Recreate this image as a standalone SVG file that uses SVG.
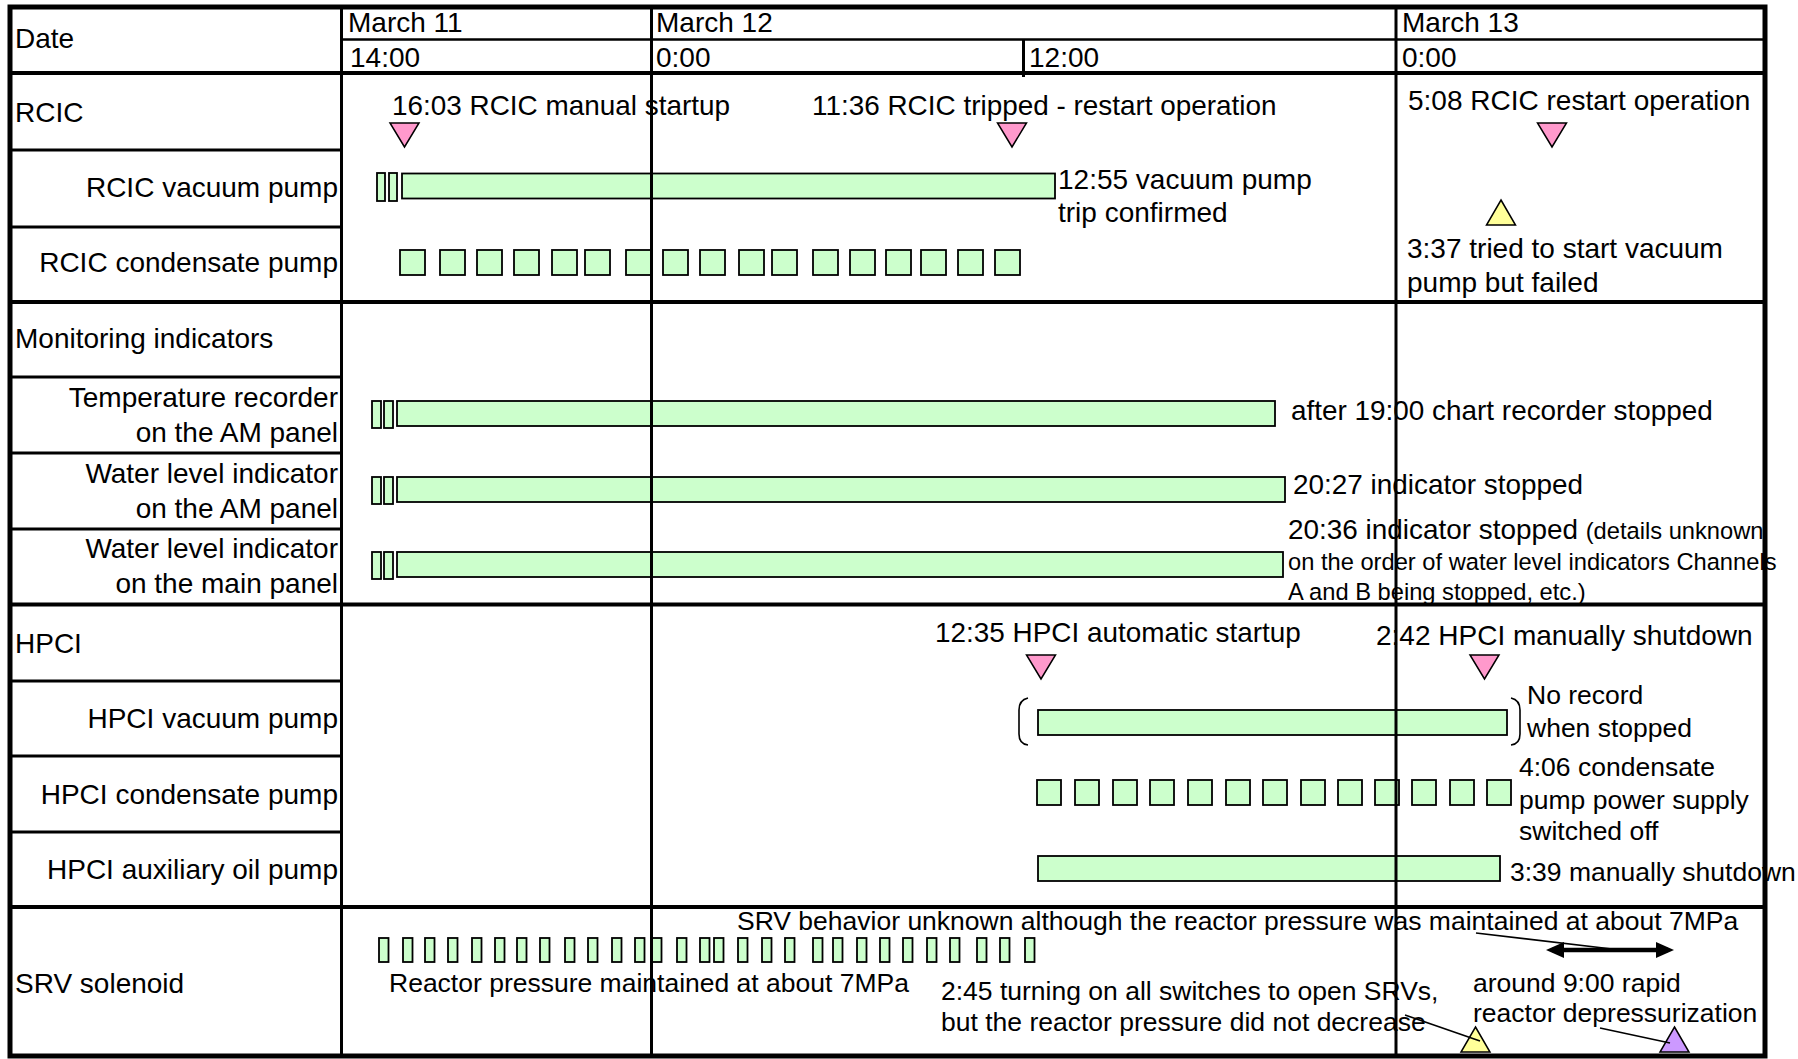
<svg xmlns="http://www.w3.org/2000/svg" width="1798" height="1059" viewBox="0 0 1798 1059">
<defs>
<style>
text { font-family: "Liberation Sans", Arial, sans-serif; fill: #000; }
.l { font-size: 28px; }
.a { font-size: 27.9px; }
.b { font-size: 26.5px; }
.s { font-size: 23.7px; }
.e { text-anchor: end; }
.bar { fill: #CCFFCC; stroke: #000; stroke-width: 1.8; }
.tp { fill: #FF99CC; stroke: #000; stroke-width: 1.5; }
.ty { fill: #FFFF99; stroke: #000; stroke-width: 1.5; }
.tv { fill: #CC99FF; stroke: #000; stroke-width: 1.5; }
.sec { stroke: #000; stroke-width: 4; }
.sub { stroke: #000; stroke-width: 3; }
.col { stroke: #000; stroke-width: 3; }
.thin { stroke: #000; stroke-width: 2.5; }
.ld { stroke: #000; stroke-width: 1.6; fill: none; }
</style>
<path id="tdn" d="M-14.5,0 L14.5,0 L0,24 Z"/>
<path id="tup" d="M0,0 L14.5,25 L-14.5,25 Z"/>
<marker id="ah" viewBox="0 0 18 16" markerWidth="18" markerHeight="16" refX="12" refY="8" orient="auto-start-reverse" markerUnits="userSpaceOnUse"><path d="M0,0 L18,8 L0,16 Z" fill="#000"/></marker>
</defs>
<rect x="0" y="0" width="1798" height="1059" fill="#fff"/>

<g id="header">
<text class="l" x="15" y="48">Date</text>
<text class="l" x="348" y="32">March 11</text>
<text class="l" x="656" y="32">March 12</text>
<text class="l" x="1402" y="32">March 13</text>
<text class="l" x="350" y="67">14:00</text>
<text class="l" x="656" y="67">0:00</text>
<text class="l" x="1029" y="67">12:00</text>
<text class="l" x="1402" y="67">0:00</text>
</g>

<g id="row-rcic">
<text class="l" x="15" y="122">RCIC</text>
<text class="a" x="392" y="115">16:03 RCIC manual startup</text>
<text class="a" x="812" y="115">11:36 RCIC tripped - restart operation</text>
<text class="l" x="1408" y="110">5:08 RCIC restart operation</text>
<use href="#tdn" class="tp" x="404.5" y="123"/>
<use href="#tdn" class="tp" x="1012" y="123"/>
<use href="#tdn" class="tp" x="1552" y="123"/>
</g>

<g id="row-rcic-vacuum">
<text class="l e" x="338" y="197">RCIC vacuum pump</text>
<rect class="bar" x="377" y="173" width="8" height="28"/>
<rect class="bar" x="389" y="173" width="8" height="28"/>
<rect class="bar" x="402" y="173.5" width="653" height="25"/>
<text class="l" x="1058" y="189">12:55 vacuum pump</text>
<text class="l" x="1058" y="222">trip confirmed</text>
<use href="#tup" class="ty" x="1501" y="200"/>
</g>

<g id="row-rcic-condensate">
<text class="l e" x="338" y="272">RCIC condensate pump</text>
<rect class="bar" x="400" y="250" width="25" height="25"/>
<rect class="bar" x="440" y="250" width="25" height="25"/>
<rect class="bar" x="477" y="250" width="25" height="25"/>
<rect class="bar" x="514" y="250" width="25" height="25"/>
<rect class="bar" x="552" y="250" width="25" height="25"/>
<rect class="bar" x="585" y="250" width="25" height="25"/>
<rect class="bar" x="626" y="250" width="25" height="25"/>
<rect class="bar" x="663" y="250" width="25" height="25"/>
<rect class="bar" x="700" y="250" width="25" height="25"/>
<rect class="bar" x="739" y="250" width="25" height="25"/>
<rect class="bar" x="772" y="250" width="25" height="25"/>
<rect class="bar" x="813" y="250" width="25" height="25"/>
<rect class="bar" x="850" y="250" width="25" height="25"/>
<rect class="bar" x="886" y="250" width="25" height="25"/>
<rect class="bar" x="921" y="250" width="25" height="25"/>
<rect class="bar" x="958" y="250" width="25" height="25"/>
<rect class="bar" x="995" y="250" width="25" height="25"/>
<text class="l" x="1407" y="258">3:37 tried to start vacuum</text>
<text class="l" x="1407" y="292">pump but failed</text>
</g>

<g id="row-monitoring">
<text class="l" x="15" y="348">Monitoring indicators</text>
</g>

<g id="row-temperature">
<text class="l e" x="338" y="407">Temperature recorder</text>
<text class="l e" x="338" y="442">on the AM panel</text>
<rect class="bar" x="372" y="401" width="9" height="27"/>
<rect class="bar" x="384" y="401" width="9" height="27"/>
<rect class="bar" x="397" y="401" width="878" height="25"/>
<text class="a" x="1291" y="420">after 19:00 chart recorder stopped</text>
</g>

<g id="row-water-am">
<text class="l e" x="338" y="483">Water level indicator</text>
<text class="l e" x="338" y="518">on the AM panel</text>
<rect class="bar" x="372" y="477" width="9" height="27"/>
<rect class="bar" x="384" y="477" width="9" height="27"/>
<rect class="bar" x="397" y="477" width="888" height="25"/>
<text class="a" x="1293" y="494">20:27 indicator stopped</text>
</g>

<g id="row-water-main">
<text class="l e" x="338" y="558">Water level indicator</text>
<text class="l e" x="338" y="593">on the main panel</text>
<rect class="bar" x="372" y="552" width="9" height="27"/>
<rect class="bar" x="384" y="552" width="9" height="27"/>
<rect class="bar" x="397" y="552" width="886" height="25"/>
<text class="a" x="1288" y="539">20:36 indicator stopped <tspan class="s">(details unknown</tspan></text>
<text class="s" x="1288" y="570">on the order of water level indicators Channels</text>
<text class="s" x="1288" y="600">A and B being stopped, etc.)</text>
</g>

<g id="row-hpci">
<text class="l" x="15" y="653">HPCI</text>
<text class="a" x="935" y="642">12:35 HPCI automatic startup</text>
<text class="l" x="1376" y="645">2:42 HPCI manually shutdown</text>
<use href="#tdn" class="tp" x="1041" y="655"/>
<use href="#tdn" class="tp" x="1484.5" y="655"/>
</g>

<g id="row-hpci-vacuum">
<text class="l e" x="338" y="728">HPCI vacuum pump</text>
<path class="ld" d="M1028,698 Q1019,700 1019,710 L1019,734 Q1019,744 1028,745"/>
<rect class="bar" x="1038" y="710" width="469" height="25"/>
<path class="ld" d="M1511,698 Q1520,700 1520,710 L1520,734 Q1520,744 1511,745"/>
<text class="b" x="1527" y="704">No record</text>
<text class="b" x="1527" y="737">when stopped</text>
</g>

<g id="row-hpci-condensate">
<text class="l e" x="338" y="804">HPCI condensate pump</text>
<rect class="bar" x="1037" y="780" width="24" height="25"/>
<rect class="bar" x="1075" y="780" width="24" height="25"/>
<rect class="bar" x="1113" y="780" width="24" height="25"/>
<rect class="bar" x="1150" y="780" width="24" height="25"/>
<rect class="bar" x="1188" y="780" width="24" height="25"/>
<rect class="bar" x="1226" y="780" width="24" height="25"/>
<rect class="bar" x="1263" y="780" width="24" height="25"/>
<rect class="bar" x="1301" y="780" width="24" height="25"/>
<rect class="bar" x="1338" y="780" width="24" height="25"/>
<rect class="bar" x="1375" y="780" width="24" height="25"/>
<rect class="bar" x="1412" y="780" width="24" height="25"/>
<rect class="bar" x="1450" y="780" width="24" height="25"/>
<rect class="bar" x="1487" y="780" width="24" height="25"/>
<text class="b" x="1519" y="776">4:06 condensate</text>
<text class="b" x="1519" y="809">pump power supply</text>
<text class="b" x="1519" y="840">switched off</text>
</g>

<g id="row-hpci-oil">
<text class="l e" x="338" y="879">HPCI auxiliary oil pump</text>
<rect class="bar" x="1038" y="856" width="462" height="25"/>
<text class="b" x="1510" y="881">3:39 manually shutdown</text>
</g>

<g id="row-srv">
<text class="l" x="15" y="993">SRV solenoid</text>
<g id="srv-pulses">
<rect class="bar" x="379" y="938" width="9.5" height="24"/>
<rect class="bar" x="403" y="938" width="9.5" height="24"/>
<rect class="bar" x="425" y="938" width="9.5" height="24"/>
<rect class="bar" x="448" y="938" width="9.5" height="24"/>
<rect class="bar" x="472" y="938" width="9.5" height="24"/>
<rect class="bar" x="495" y="938" width="9.5" height="24"/>
<rect class="bar" x="517" y="938" width="9.5" height="24"/>
<rect class="bar" x="540" y="938" width="9.5" height="24"/>
<rect class="bar" x="565" y="938" width="9.5" height="24"/>
<rect class="bar" x="588" y="938" width="9.5" height="24"/>
<rect class="bar" x="612" y="938" width="9.5" height="24"/>
<rect class="bar" x="635" y="938" width="9.5" height="24"/>
<rect class="bar" x="652" y="938" width="9.5" height="24"/>
<rect class="bar" x="677" y="938" width="9.5" height="24"/>
<rect class="bar" x="700" y="938" width="9.5" height="24"/>
<rect class="bar" x="714" y="938" width="9.5" height="24"/>
<rect class="bar" x="738" y="938" width="9.5" height="24"/>
<rect class="bar" x="762" y="938" width="9.5" height="24"/>
<rect class="bar" x="785" y="938" width="9.5" height="24"/>
<rect class="bar" x="813" y="938" width="9.5" height="24"/>
<rect class="bar" x="833" y="938" width="9.5" height="24"/>
<rect class="bar" x="857" y="938" width="9.5" height="24"/>
<rect class="bar" x="880" y="938" width="9.5" height="24"/>
<rect class="bar" x="903" y="938" width="9.5" height="24"/>
<rect class="bar" x="927" y="938" width="9.5" height="24"/>
<rect class="bar" x="950" y="938" width="9.5" height="24"/>
<rect class="bar" x="977" y="938" width="9.5" height="24"/>
<rect class="bar" x="1000" y="938" width="9.5" height="24"/>
<rect class="bar" x="1025" y="938" width="9.5" height="24"/>
</g>
<text class="b" x="737" y="930">SRV behavior unknown although the reactor pressure was maintained at about 7MPa</text>
<text class="b" x="389" y="992">Reactor pressure maintained at about 7MPa</text>
<text class="b" x="941" y="1000">2:45 turning on all switches to open SRVs,</text>
<text class="b" x="941" y="1031">but the reactor pressure did not decrease</text>
<text class="b" x="1473" y="992">around 9:00 rapid</text>
<text class="b" x="1473" y="1022">reactor depressurization</text>
<use href="#tup" class="ty" x="1475.5" y="1027"/>
<use href="#tup" class="tv" x="1674.5" y="1027"/>
</g>

<g id="connectors">
<line class="ld" x1="1476" y1="933" x2="1612" y2="949"/>
<line x1="1552" y1="950" x2="1668" y2="950" stroke="#000" stroke-width="4.5" marker-start="url(#ah)" marker-end="url(#ah)"/>
<line class="ld" x1="1405" y1="1015" x2="1480" y2="1041"/>
<line class="ld" x1="1600" y1="1028" x2="1670" y2="1043"/>
</g>

<g id="grid">
<line class="thin" x1="341" y1="39.5" x2="1765" y2="39.5"/>
<line class="sec" x1="10" y1="73" x2="1765" y2="73"/>
<line class="sec" x1="10" y1="302" x2="1765" y2="302"/>
<line class="sec" x1="10" y1="604.5" x2="1765" y2="604.5"/>
<line class="sec" x1="10" y1="907" x2="1765" y2="907"/>
<line class="sub" x1="10" y1="150" x2="341" y2="150"/>
<line class="sub" x1="10" y1="227" x2="341" y2="227"/>
<line class="sub" x1="10" y1="377" x2="341" y2="377"/>
<line class="sub" x1="10" y1="453" x2="341" y2="453"/>
<line class="sub" x1="10" y1="529" x2="341" y2="529"/>
<line class="sub" x1="10" y1="681" x2="341" y2="681"/>
<line class="sub" x1="10" y1="756" x2="341" y2="756"/>
<line class="sub" x1="10" y1="832" x2="341" y2="832"/>
<line class="col" x1="341.5" y1="7" x2="341.5" y2="1056"/>
<line class="col" x1="651.5" y1="7" x2="651.5" y2="1056"/>
<line class="col" x1="1396" y1="7" x2="1396" y2="1056"/>
<line class="col" x1="1023.5" y1="39" x2="1023.5" y2="77"/>
<rect x="10" y="7" width="1755" height="1049" fill="none" stroke="#000" stroke-width="5"/>
</g>
</svg>
